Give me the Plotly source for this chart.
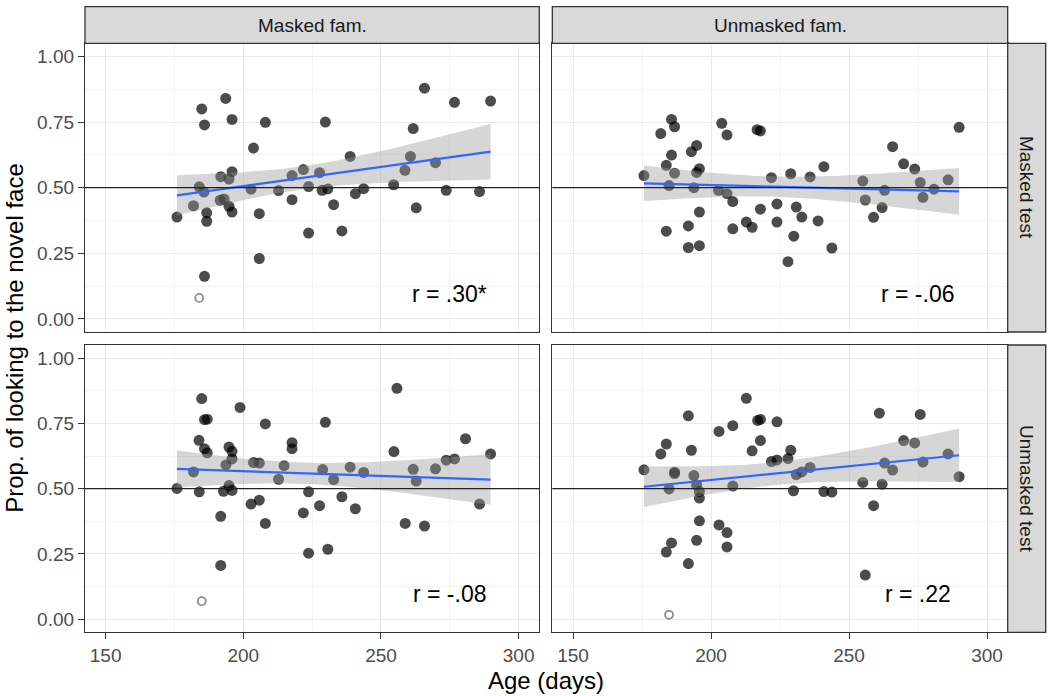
import numpy as np
import plotly.graph_objects as go

# ---------------- data ----------------
col_labels = ["Masked fam.", "Unmasked fam."]
row_labels = ["Masked test", "Unmasked test"]
r_labels = ["r = .30*", "r = -.06", "r = -.08", "r = .22"]
x_ticks = [150, 200, 250, 300]
y_ticks = [0.00, 0.25, 0.50, 0.75, 1.00]
y_tick_text = ["0.00", "0.25", "0.50", "0.75", "1.00"]
chance = 0.5

# Masked fam. / Masked test
age_a = [175.9, 184.0, 184.9, 185.9, 185.7, 186.7, 186.7, 185.9, 181.9, 191.8,
         194.8, 195.9, 193.6, 195.9, 191.6, 193.0, 194.8, 195.9, 203.7, 202.8,
         205.8, 205.8, 208.0, 212.8, 217.7, 217.7, 221.8, 223.7, 223.7, 227.7,
         228.6, 230.7, 229.8, 232.8, 235.8, 238.8, 240.7, 243.7, 254.6, 258.7,
         260.7, 261.7, 262.8, 265.8, 269.8, 273.7, 276.7, 285.8, 289.8]
prop_a = [0.388, 0.503, 0.800, 0.739, 0.483, 0.404, 0.372, 0.162, 0.431, 0.542,
          0.533, 0.561, 0.840, 0.760, 0.452, 0.457, 0.429, 0.407, 0.651, 0.494,
          0.401, 0.230, 0.749, 0.489, 0.546, 0.454, 0.569, 0.504, 0.327, 0.557,
          0.490, 0.495, 0.750, 0.435, 0.335, 0.619, 0.477, 0.496, 0.511, 0.566,
          0.619, 0.725, 0.423, 0.879, 0.595, 0.490, 0.825, 0.485, 0.830]
out_age_a = [184.0]
out_prop_a = [0.080]

# Unmasked fam. / Masked test
age_b = [175.7, 181.8, 185.7, 186.8, 183.8, 186.8, 184.8, 185.7, 183.8, 192.9,
         194.8, 195.8, 194.8, 193.8, 195.8, 191.8, 191.8, 195.8, 203.9, 205.8,
         202.7, 205.8, 207.9, 207.9, 212.8, 214.9, 216.7, 217.9, 217.9, 221.9,
         223.9, 223.9, 228.9, 227.9, 230.0, 230.9, 232.9, 235.9, 238.8, 240.9,
         243.8, 255.0, 255.9, 258.9, 262.0, 262.9, 265.8, 269.8, 273.8, 275.8,
         276.8, 280.8, 285.9, 289.9]
prop_b = [0.546, 0.706, 0.760, 0.732, 0.585, 0.555, 0.508, 0.624, 0.334, 0.637,
          0.661, 0.572, 0.558, 0.500, 0.407, 0.354, 0.272, 0.279, 0.745, 0.701,
          0.490, 0.477, 0.447, 0.343, 0.369, 0.349, 0.721, 0.716, 0.418, 0.538,
          0.438, 0.369, 0.553, 0.218, 0.315, 0.426, 0.388, 0.541, 0.373, 0.580,
          0.270, 0.525, 0.453, 0.387, 0.424, 0.490, 0.656, 0.591, 0.571, 0.520,
          0.463, 0.494, 0.530, 0.730]
out_age_b = []
out_prop_b = []

# Masked fam. / Unmasked test
age_c = [175.9, 181.9, 184.0, 183.9, 184.9, 185.9, 186.9, 185.9, 186.9, 191.8,
         191.8, 192.8, 193.7, 194.8, 195.9, 195.9, 194.8, 195.9, 198.8, 202.8,
         203.7, 205.8, 205.8, 208.0, 208.0, 212.8, 214.8, 217.7, 217.7, 221.8,
         223.7, 223.7, 227.7, 228.8, 229.8, 230.7, 232.8, 235.8, 238.8, 240.7,
         243.7, 254.7, 255.8, 258.8, 261.7, 262.8, 265.8, 269.8, 273.7, 276.7,
         280.7, 285.8, 289.8]
prop_c = [0.501, 0.564, 0.488, 0.685, 0.845, 0.764, 0.766, 0.653, 0.637, 0.394,
          0.206, 0.490, 0.591, 0.659, 0.643, 0.614, 0.512, 0.493, 0.811, 0.441,
          0.600, 0.598, 0.456, 0.748, 0.367, 0.536, 0.588, 0.676, 0.653, 0.407,
          0.488, 0.253, 0.435, 0.573, 0.754, 0.268, 0.535, 0.469, 0.582, 0.423,
          0.562, 0.642, 0.884, 0.367, 0.574, 0.529, 0.357, 0.576, 0.609, 0.614,
          0.691, 0.441, 0.633]
out_age_c = [184.9]
out_prop_c = [0.069]

# Unmasked fam. / Unmasked test
age_d = [175.7, 181.8, 183.8, 183.8, 185.7, 184.8, 186.8, 186.8, 191.8, 191.8,
         192.9, 193.8, 194.8, 195.8, 195.8, 195.8, 194.8, 202.9, 202.9, 205.8,
         205.8, 207.9, 207.9, 212.8, 214.9, 216.9, 217.9, 217.9, 221.9, 223.9,
         223.9, 227.9, 228.9, 229.9, 230.9, 232.9, 235.9, 240.9, 243.8, 255.0,
         255.9, 258.9, 261.0, 262.0, 262.9, 265.8, 269.8, 273.8, 275.8, 276.8,
         285.9, 289.9]
prop_d = [0.572, 0.633, 0.671, 0.257, 0.292, 0.499, 0.563, 0.558, 0.779, 0.213,
          0.647, 0.550, 0.514, 0.489, 0.464, 0.377, 0.302, 0.719, 0.361, 0.332,
          0.277, 0.741, 0.510, 0.846, 0.645, 0.761, 0.765, 0.684, 0.604, 0.610,
          0.756, 0.615, 0.647, 0.492, 0.554, 0.564, 0.581, 0.489, 0.487, 0.524,
          0.169, 0.435, 0.789, 0.517, 0.598, 0.571, 0.684, 0.675, 0.784, 0.602,
          0.633, 0.546]
out_age_d = [184.8]
out_prop_d = [0.017]

panels = [
    (age_a, prop_a, out_age_a, out_prop_a),
    (age_b, prop_b, out_age_b, out_prop_b),
    (age_c, prop_c, out_age_c, out_prop_c),
    (age_d, prop_d, out_age_d, out_prop_d),
]

# ---------------- helpers ----------------
def t_quantile(df, z=1.959963985):
    # Cornish-Fisher expansion of Student t 97.5% quantile
    return (z + (z**3 + z) / (4 * df) + (5 * z**5 + 16 * z**3 + 3 * z) / (96 * df**2)
            + (3 * z**7 + 19 * z**5 + 17 * z**3 - 15 * z) / (384 * df**3))


def lm_band(x, y, n=100):
    x = np.asarray(x, float)
    y = np.asarray(y, float)
    k = len(x)
    b1, b0 = np.polyfit(x, y, 1)
    xs = np.linspace(x.min(), x.max(), n)
    yh = b0 + b1 * xs
    resid = y - (b0 + b1 * x)
    s = np.sqrt(np.sum(resid**2) / (k - 2))
    se = s * np.sqrt(1.0 / k + (xs - x.mean())**2 / np.sum((x - x.mean())**2))
    t = t_quantile(k - 2)
    return xs, yh, yh - t * se, yh + t * se


# ---------------- layout geometry (pixels) ----------------
W, H = 1050, 696
col_px = [(85.0, 539.3), (552.3, 1007.7)]
row_px = [(43.3, 332.0), (345.0, 632.3)]
strip_top_px = (6.7, 43.3)
strip_right_px = (1007.7, 1045.7)

def px_x(v):
    return v / W

def px_y(v):
    return 1 - v / H

FONT = "Liberation Sans, Arial, Helvetica, sans-serif"
BORDER = "#333333"

fig = go.Figure()
shapes = []
annotations = []

for i, (ax, ay, ox, oy) in enumerate(panels):
    r, c = divmod(i, 2)
    xa = "x" if i == 0 else f"x{i+1}"
    ya = "y" if i == 0 else f"y{i+1}"
    # points
    fig.add_trace(go.Scatter(
        x=ax, y=ay, mode="markers", xaxis=xa, yaxis=ya,
        marker=dict(size=11, color="rgba(0,0,0,0.70)", line=dict(width=0)),
        showlegend=False, hoverinfo="x+y"))
    if ox:
        fig.add_trace(go.Scatter(
            x=ox, y=oy, mode="markers", xaxis=xa, yaxis=ya,
            marker=dict(size=8, symbol="circle-open",
                        color="rgba(0,0,0,0.45)", line=dict(width=1.8)),
            showlegend=False, hoverinfo="x+y"))
    xs, yh, lo, hi = lm_band(ax, ay)
    fig.add_trace(go.Scatter(
        x=np.concatenate([xs, xs[::-1]]), y=np.concatenate([hi, lo[::-1]]),
        mode="lines", fill="toself", fillcolor="rgba(153,153,153,0.40)",
        line=dict(width=0), xaxis=xa, yaxis=ya, showlegend=False, hoverinfo="skip"))
    fig.add_trace(go.Scatter(
        x=xs, y=yh, mode="lines", line=dict(color="#3366FF", width=2.2),
        xaxis=xa, yaxis=ya, showlegend=False, hoverinfo="skip"))

    xkey = "xaxis" if i == 0 else f"xaxis{i+1}"
    ykey = "yaxis" if i == 0 else f"yaxis{i+1}"
    x0, x1 = col_px[c]
    yt, yb = row_px[r]
    fig.update_layout(**{
        xkey: dict(domain=[px_x(x0), px_x(x1)], anchor=ya, range=[142.5, 307.5],
                   tickvals=x_ticks, ticktext=[str(v) for v in x_ticks],
                   showticklabels=(r == 1), ticks="outside" if r == 1 else "",
                   ticklen=6, tickwidth=1.2, tickcolor=BORDER,
                   tickfont=dict(family=FONT, size=19, color="#4d4d4d"),
                   showgrid=True, gridcolor="#ebebeb", gridwidth=1.2,
                   minor=dict(dtick=25, tick0=150, showgrid=True,
                              gridcolor="#f3f3f3", gridwidth=0.7, ticks=""),
                   showline=True, mirror=True, linecolor=BORDER, linewidth=1.3,
                   zeroline=False, fixedrange=True),
        ykey: dict(domain=[px_y(yb), px_y(yt)], anchor=xa, range=[-0.05, 1.05],
                   tickvals=y_ticks, ticktext=y_tick_text,
                   showticklabels=(c == 0), ticks="outside" if c == 0 else "",
                   ticklen=6, tickwidth=1.2, tickcolor=BORDER,
                   tickfont=dict(family=FONT, size=19, color="#4d4d4d"),
                   showgrid=True, gridcolor="#ebebeb", gridwidth=1.2,
                   minor=dict(dtick=0.125, tick0=0, showgrid=True,
                              gridcolor="#f3f3f3", gridwidth=0.7, ticks=""),
                   showline=True, mirror=True, linecolor=BORDER, linewidth=1.3,
                   zeroline=False, fixedrange=True),
    })
    # chance reference line
    shapes.append(dict(type="line", xref=f"{xa} domain", yref=ya,
                       x0=0, x1=1, y0=chance, y1=chance,
                       line=dict(color="#222222", width=1.3), layer="above"))
    # correlation label
    annotations.append(dict(x=275, y=0.095, xref=xa, yref=ya, text=r_labels[i],
                            showarrow=False, xanchor="center", yanchor="middle",
                            font=dict(family=FONT, size=23, color="black")))

# column strips
for c, lab in enumerate(col_labels):
    x0, x1 = col_px[c]
    shapes.append(dict(type="rect", xref="paper", yref="paper",
                       x0=px_x(x0), x1=px_x(x1),
                       y0=px_y(strip_top_px[1]), y1=px_y(strip_top_px[0]),
                       fillcolor="#d9d9d9", line=dict(color=BORDER, width=1.3),
                       layer="above"))
    annotations.append(dict(x=px_x((x0 + x1) / 2), y=px_y(sum(strip_top_px) / 2),
                            xref="paper", yref="paper", text=lab, showarrow=False,
                            xanchor="center", yanchor="middle",
                            font=dict(family=FONT, size=19, color="#1a1a1a")))

# row strips
for r, lab in enumerate(row_labels):
    yt, yb = row_px[r]
    shapes.append(dict(type="rect", xref="paper", yref="paper",
                       x0=px_x(strip_right_px[0]), x1=px_x(strip_right_px[1]),
                       y0=px_y(yb), y1=px_y(yt),
                       fillcolor="#d9d9d9", line=dict(color=BORDER, width=1.3),
                       layer="above"))
    annotations.append(dict(x=px_x(sum(strip_right_px) / 2), y=px_y((yt + yb) / 2),
                            xref="paper", yref="paper", text=lab, showarrow=False,
                            textangle=90, xanchor="center", yanchor="middle",
                            font=dict(family=FONT, size=19, color="#1a1a1a")))

# axis titles
annotations.append(dict(x=px_x((col_px[0][0] + col_px[1][1]) / 2), y=px_y(680),
                        xref="paper", yref="paper", text="Age (days)", showarrow=False,
                        xanchor="center", yanchor="middle",
                        font=dict(family=FONT, size=24, color="black")))
annotations.append(dict(x=px_x(15), y=px_y((row_px[0][0] + row_px[1][1]) / 2),
                        xref="paper", yref="paper",
                        text="Prop. of looking to the novel face", showarrow=False,
                        textangle=-90, xanchor="center", yanchor="middle",
                        font=dict(family=FONT, size=24, color="black")))

fig.update_layout(width=W, height=H, margin=dict(l=0, r=0, t=0, b=0),
                  paper_bgcolor="white", plot_bgcolor="white",
                  shapes=shapes, annotations=annotations, showlegend=False,
                  font=dict(family=FONT))

fig.write_html("out.html", include_plotlyjs=True,
               config={"displayModeBar": False},
               post_script="document.body.style.margin='0';document.body.style.overflow='hidden';")
